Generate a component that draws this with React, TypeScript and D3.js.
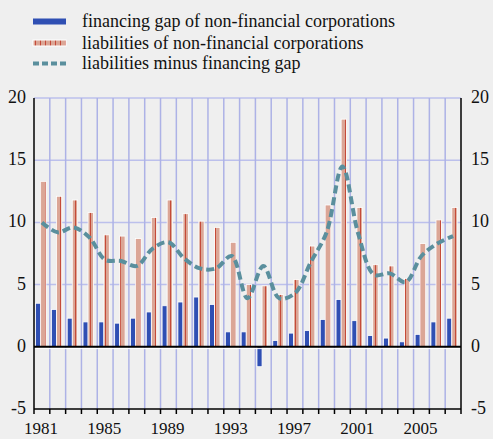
import React, { useEffect, useRef } from 'react';
import * as d3 from 'd3';

// years on the x axis
const years = d3.range(1981, 2008).map(String);
const yearLabels = ['1981', '1985', '1989', '1993', '1997', '2001', '2005'];

// financing gap of non-financial corporations
const financingGap = [3.5, 3.0, 2.3, 2.0, 2.0, 1.9, 2.3, 2.8, 3.3, 3.6, 4.0, 3.4, 1.2, 1.2,
  -1.6, 0.5, 1.1, 1.3, 2.2, 3.8, 2.1, 0.9, 0.7, 0.4, 1.0, 2.0, 2.3];

// liabilities of non-financial corporations
const liabilities = [13.3, 12.1, 11.8, 10.8, 9.0, 8.9, 8.7, 10.4, 11.8, 10.7, 10.1, 9.6, 8.4, 5.0,
  4.9, 4.2, 5.4, 8.1, 11.4, 18.3, 11.2, 6.6, 6.5, 5.5, 8.3, 10.2, 11.2];

// liabilities minus financing gap
const difference = [10.0, 9.2, 9.6, 8.8, 7.0, 6.9, 6.5, 7.9, 8.4, 7.1, 6.3, 6.3, 7.3, 3.9,
  6.5, 3.9, 4.3, 6.8, 9.2, 14.5, 9.1, 5.8, 5.9, 5.2, 7.3, 8.3, 8.9];

const yTicks = [-5, 0, 5, 10, 15, 20];
const legendItems = [
  'financing gap of non-financial corporations',
  'liabilities of non-financial corporations',
  'liabilities minus financing gap',
];

export default function App() {
  const ref = useRef<SVGSVGElement>(null);

  useEffect(() => {
    const width = 493;
    const height = 439;
    const left = 34, right = 461, top = 98, bottom = 409;
    const font = "'Liberation Serif', 'Times New Roman', serif";
    const blue = '#2f4fb3';
    const salmon = '#dba696';
    const red = '#c54a38';
    const teal = '#5a8f9d';
    const grid = '#adb2e6';

    const svg = d3.select(ref.current);
    svg.selectAll('*').remove();
    svg.attr('width', width).attr('height', height);

    const defs = svg.append('defs');
    const pat = defs.append('pattern')
      .attr('id', 'hatch')
      .attr('patternUnits', 'userSpaceOnUse')
      .attr('width', 5)
      .attr('height', 4);
    pat.append('rect').attr('width', 5).attr('height', 4).attr('fill', salmon);
    pat.append('rect').attr('x', 0).attr('width', 1).attr('height', 4).attr('fill', red);

    svg.append('rect').attr('width', width).attr('height', height).attr('fill', '#efefef');

    const x = d3.scaleBand().domain(years).range([left, right]).padding(0);
    const y = d3.scaleLinear().domain([-5, 20]).range([bottom, top]);
    const bw = x.bandwidth();

    // horizontal grid
    svg.append('g').selectAll('line')
      .data(yTicks.filter(t => t > 0))
      .join('line')
      .attr('x1', left).attr('x2', right)
      .attr('y1', d => y(d)).attr('y2', d => y(d))
      .attr('stroke', '#bcc0ec').attr('stroke-width', 1.5);

    // vertical grid at category boundaries
    svg.append('g').selectAll('line')
      .data(years.slice(1))
      .join('line')
      .attr('x1', d => x(d)!).attr('x2', d => x(d)!)
      .attr('y1', top).attr('y2', bottom)
      .attr('stroke', grid).attr('stroke-width', 1.5);

    // bars
    svg.append('g').selectAll('rect')
      .data(years)
      .join('rect')
      .attr('x', d => x(d)! + bw * 0.1)
      .attr('width', bw * 0.32)
      .attr('y', (d, i) => y(Math.max(0, financingGap[i])))
      .attr('height', (d, i) => Math.abs(y(financingGap[i]) - y(0)))
      .attr('fill', blue)
      .attr('stroke', '#fff').attr('stroke-width', 0.8);

    svg.append('g').selectAll('rect')
      .data(years)
      .join('rect')
      .attr('x', d => x(d)! + bw * 0.42)
      .attr('width', bw * 0.34)
      .attr('y', (d, i) => y(liabilities[i]))
      .attr('height', (d, i) => y(0) - y(liabilities[i]))
      .attr('fill', 'url(#hatch)')
      .attr('stroke', '#fff').attr('stroke-width', 0.8);

    // zero line
    svg.append('line')
      .attr('x1', left).attr('x2', right)
      .attr('y1', y(0) + 1.8).attr('y2', y(0) + 1.8)
      .attr('stroke', '#fff').attr('stroke-width', 1);
    svg.append('line')
      .attr('x1', left).attr('x2', right)
      .attr('y1', y(0)).attr('y2', y(0))
      .attr('stroke', '#000').attr('stroke-width', 2);

    // dashed line
    const line = d3.line<number>()
      .x((d, i) => x(years[i])! + bw / 2)
      .y(d => y(d))
      .curve(d3.curveCatmullRom.alpha(0.5));
    svg.append('path')
      .datum(difference)
      .attr('fill', 'none')
      .attr('stroke', teal)
      .attr('stroke-width', 4)
      .attr('stroke-dasharray', '8,4')
      .attr('d', line);

    // axes lines
    svg.append('line').attr('x1', left).attr('x2', left).attr('y1', top).attr('y2', bottom)
      .attr('stroke', '#000').attr('stroke-width', 1.5);
    svg.append('line').attr('x1', right).attr('x2', right).attr('y1', top).attr('y2', bottom)
      .attr('stroke', '#000').attr('stroke-width', 1.5);
    svg.append('line').attr('x1', left).attr('x2', right).attr('y1', bottom).attr('y2', bottom)
      .attr('stroke', '#000').attr('stroke-width', 1.5);

    // bottom ticks
    svg.append('g').selectAll('line')
      .data(years.map(d => x(d)!).concat([right]))
      .join('line')
      .attr('x1', d => d).attr('x2', d => d)
      .attr('y1', bottom).attr('y2', bottom + 5)
      .attr('stroke', '#000').attr('stroke-width', 1.5);

    // y labels
    svg.append('g').selectAll('text')
      .data(yTicks)
      .join('text')
      .attr('x', 26).attr('y', d => y(d) + 5)
      .attr('text-anchor', 'end')
      .style('font-family', font).style('font-size', '18px').attr('fill', '#111')
      .text(d => String(d));
    svg.append('g').selectAll('text')
      .data(yTicks)
      .join('text')
      .attr('x', 471).attr('y', d => y(d) + 5)
      .attr('text-anchor', 'start')
      .style('font-family', font).style('font-size', '18px').attr('fill', '#111')
      .text(d => String(d));

    // x labels
    svg.append('g').selectAll('text')
      .data(yearLabels)
      .join('text')
      .attr('x', d => x(d)! + bw / 2 - 1)
      .attr('y', 434)
      .attr('text-anchor', 'middle')
      .style('font-family', font).style('font-size', '17px').attr('fill', '#111')
      .text(d => d);

    // legend
    const lg = svg.append('g');
    const rowY = [21.5, 43, 63.5];
    lg.append('rect').attr('x', 33).attr('y', rowY[0] - 3).attr('width', 33).attr('height', 6)
      .attr('fill', blue);
    lg.append('rect').attr('x', 33).attr('y', rowY[1] - 3).attr('width', 33).attr('height', 6)
      .attr('fill', 'url(#hatch)').attr('stroke', '#fff').attr('stroke-width', 1);
    lg.append('line').attr('x1', 33).attr('x2', 66).attr('y1', rowY[2]).attr('y2', rowY[2])
      .attr('stroke', teal).attr('stroke-width', 4).attr('stroke-dasharray', '6,3');
    lg.selectAll('text')
      .data(legendItems)
      .join('text')
      .attr('x', 82)
      .attr('y', (d, i) => rowY[i] + 5.5)
      .style('font-family', font).style('font-size', '18px').attr('fill', '#111')
      .text(d => d);
  }, []);

  return (
    <svg ref={ref} style={{ position: 'fixed', top: 0, left: 0, display: 'block' }} />
  );
}
